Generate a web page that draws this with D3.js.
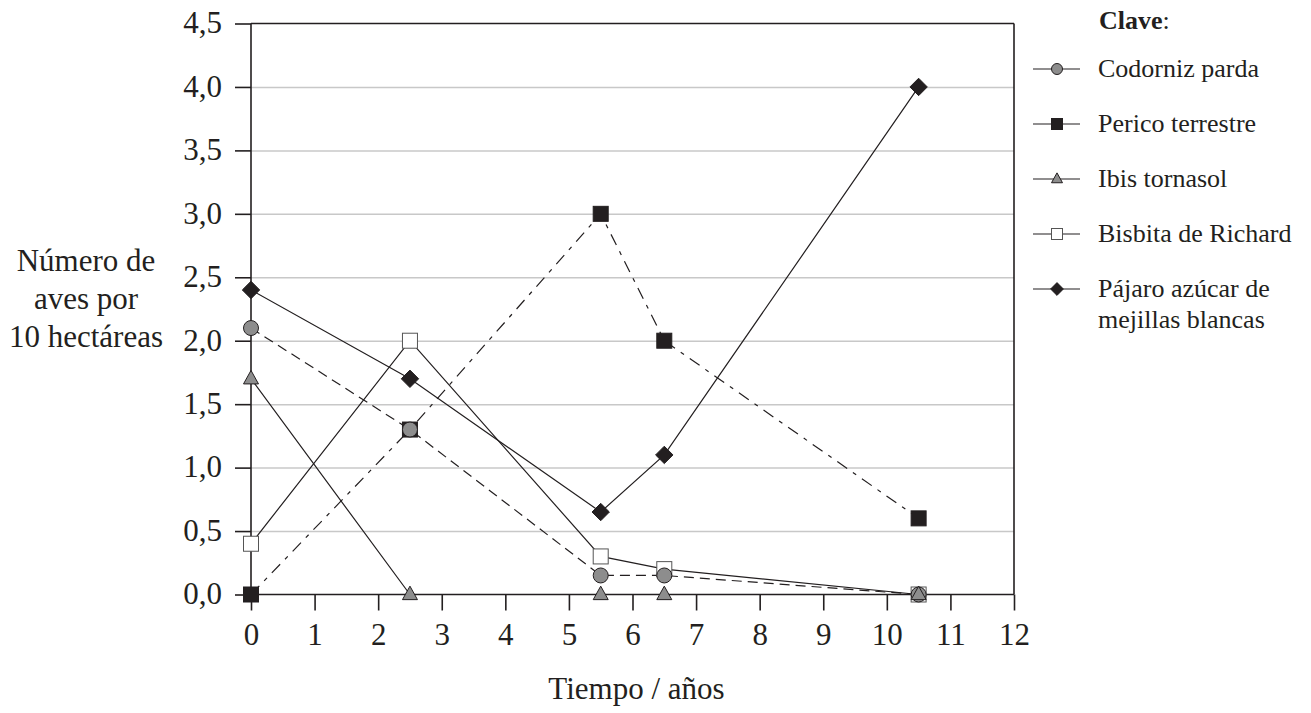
<!DOCTYPE html>
<html>
<head>
<meta charset="utf-8">
<script src="https://cdn.jsdelivr.net/npm/d3@7"></script>
<style>
  body { margin: 0; background: #fff; }
  text { font-family: "Liberation Serif", "Times New Roman", serif; fill: #231f20; }
  .grid line { stroke: #c8c8c8; stroke-width: 1.5; }
  .grid .domain { display: none; }
  .axis .domain, .axis line { stroke: #231f20; stroke-width: 1.6; }
</style>
</head>
<body>
<div id="chart"></div>
<script>
// Bird counts per 10 ha over time

var years = [0, 2.5, 5.5, 6.5, 10.5];

var codornizYears = [0, 2.5, 5.5, 6.5, 10.5];
var codornizVals  = [2.1, 1.3, 0.15, 0.15, 0];

var pericoYears = [0, 2.5, 5.5, 6.5, 10.5];
var pericoVals  = [0, 1.3, 3.0, 2.0, 0.6];

var ibisYears = [0, 2.5, 5.5, 6.5, 10.5];
var ibisVals  = [1.7, 0, 0, 0, 0];

var bisbitaYears = [0, 2.5, 5.5, 6.5, 10.5];
var bisbitaVals  = [0.4, 2.0, 0.3, 0.2, 0];

var pajaroYears = [0, 2.5, 5.5, 6.5, 10.5];
var pajaroVals  = [2.4, 1.7, 0.65, 1.1, 4.0];

var xTicks = [0, 1, 2, 3, 4, 5, 6, 7, 8, 9, 10, 11, 12];
var yTicks = [0, 0.5, 1, 1.5, 2, 2.5, 3, 3.5, 4, 4.5];

var legendNames = ["Codorniz parda", "Perico terrestre", "Ibis tornasol",
                   "Bisbita de Richard", ["Pájaro azúcar de", "mejillas blancas"]];

var yLabelLines = ["Número de", "aves por", "10 hectáreas"];
var xLabel = "Tiempo / años";

var ink = "#231f20";
var gray = "#8d8d8d";

function zip(xs, ys) {
  var out = [];
  for (var i = 0; i < xs.length; i++) {
    out.push({x: xs[i], y: ys[i]});
  }
  return out;
}

// series: drawing order matters for overlapping markers
var series = [
  {name: "bisbita",  pts: zip(bisbitaYears, bisbitaVals),   shape: "square",   fill: "#fff", dash: null,         legend: 3},
  {name: "perico",   pts: zip(pericoYears, pericoVals),     shape: "square",   fill: ink,    dash: "12,7,4,7",   legend: 1},
  {name: "codorniz", pts: zip(codornizYears, codornizVals), shape: "circle",   fill: gray,   dash: "10,6",       legend: 0},
  {name: "ibis",     pts: zip(ibisYears, ibisVals),         shape: "triangle", fill: gray,   dash: null,         legend: 2},
  {name: "pajaro",   pts: zip(pajaroYears, pajaroVals),     shape: "diamond",  fill: ink,    dash: null,         legend: 4}
];

var width = 1311, height = 713;
var margin = {left: 251, right: 297, top: 23.5, bottom: 118.5};
var innerW = width - margin.left - margin.right;
var innerH = height - margin.top - margin.bottom;

var svg = d3.select("#chart").append("svg")
    .attr("width", width)
    .attr("height", height);

var g = svg.append("g")
    .attr("transform", "translate(" + margin.left + "," + margin.top + ")");

var x = d3.scaleLinear().domain([0, 12]).range([0, innerW]);
var y = d3.scaleLinear().domain([0, 4.5]).range([innerH, 0]);

// horizontal gridlines
g.append("g")
    .attr("class", "grid")
    .call(d3.axisLeft(y).tickValues(yTicks.slice(1, -1)).tickSize(-innerW).tickFormat(""));

// frame: top and right edges
g.append("line")
    .attr("x1", 0).attr("x2", innerW).attr("y1", 0).attr("y2", 0)
    .attr("stroke", ink).attr("stroke-width", 1.6);
g.append("line")
    .attr("x1", innerW).attr("x2", innerW).attr("y1", 0).attr("y2", innerH)
    .attr("stroke", ink).attr("stroke-width", 1.6);

var fmt = function (d) { return d3.format(".1f")(d).replace(".", ","); };

var yAxis = g.append("g")
    .attr("class", "axis")
    .call(d3.axisLeft(y).tickValues(yTicks).tickSize(16).tickPadding(13).tickFormat(fmt));
yAxis.selectAll("text").style("font-size", "31px").attr("dy", "0.3em");

var xAxis = g.append("g")
    .attr("class", "axis")
    .attr("transform", "translate(0," + innerH + ")")
    .call(d3.axisBottom(x).tickValues(xTicks).tickSize(16).tickPadding(10).tickFormat(d3.format("d")));
xAxis.selectAll("text").style("font-size", "31px").attr("dy", "0.8em");
xAxis.select(".domain").attr("d", "M0,0H" + innerW);
yAxis.select(".domain").attr("d", "M0," + innerH + "V0");

// axis titles
var yl = svg.append("text")
    .attr("text-anchor", "middle")
    .style("font-size", "31px");
yl.selectAll("tspan")
    .data(yLabelLines)
    .enter().append("tspan")
    .attr("x", 86)
    .attr("y", function (d, i) { return 271 + i * 38; })
    .text(function (d) { return d; });

svg.append("text")
    .attr("x", margin.left + innerW / 2 + 4)
    .attr("y", 699)
    .attr("text-anchor", "middle")
    .style("font-size", "31px")
    .text(xLabel);

// marker drawing helper
function drawMarker(sel, shape, fill, s) {
  if (shape === "circle") {
    sel.append("circle").attr("r", s / 2);
  } else if (shape === "square") {
    sel.append("rect").attr("x", -s / 2).attr("y", -s / 2).attr("width", s).attr("height", s);
  } else if (shape === "triangle") {
    var h = s * 0.9;
    sel.append("path").attr("d", "M0," + (-h * 0.62) + "L" + (s / 2) + "," + (h * 0.38) + "L" + (-s / 2) + "," + (h * 0.38) + "Z");
  } else if (shape === "diamond") {
    var r = s * 0.58;
    sel.append("path").attr("d", "M0," + (-r) + "L" + r + ",0L0," + r + "L" + (-r) + ",0Z");
  }
  sel.selectAll("circle,rect,path")
      .attr("fill", fill)
      .attr("stroke", fill === "#fff" ? "#555" : ink)
      .attr("stroke-width", 1);
}

var line = d3.line()
    .x(function (d) { return x(d.x); })
    .y(function (d) { return y(d.y); });

// lines first, markers above
series.forEach(function (s) {
  g.append("path")
      .datum(s.pts)
      .attr("d", line)
      .attr("fill", "none")
      .attr("stroke", ink)
      .attr("stroke-width", 1.2)
      .attr("stroke-dasharray", s.dash);
});

series.forEach(function (s) {
  g.selectAll(".m-" + s.name)
      .data(s.pts)
      .enter().append("g")
      .attr("class", "m-" + s.name)
      .attr("transform", function (d) { return "translate(" + x(d.x) + "," + y(d.y) + ")"; })
      .each(function () { drawMarker(d3.select(this), s.shape, s.fill, 15); });
});

// legend
var legend = svg.append("g");

var clave = legend.append("text")
    .attr("x", 1099)
    .attr("y", 29)
    .style("font-size", "26px");
clave.append("tspan").style("font-weight", "bold").text("Clave");
clave.append("tspan").text(":");

var order = series.slice().sort(function (a, b) { return a.legend - b.legend; });

order.forEach(function (s, i) {
  var cy = 69 + i * 55;
  var row = legend.append("g");
  row.append("line")
      .attr("x1", 1033).attr("x2", 1080)
      .attr("y1", cy).attr("y2", cy)
      .attr("stroke", ink).attr("stroke-width", 1.2);
  var m = row.append("g").attr("transform", "translate(1057," + cy + ")");
  drawMarker(m, s.shape, s.fill, 11);
  var names = legendNames[s.legend];
  if (!Array.isArray(names)) names = [names];
  var t = row.append("text").style("font-size", "26px");
  t.selectAll("tspan")
      .data(names)
      .enter().append("tspan")
      .attr("x", 1098)
      .attr("y", function (d, k) { return cy + 8 + k * 31; })
      .text(function (d) { return d; });
});
</script>
</body>
</html>
